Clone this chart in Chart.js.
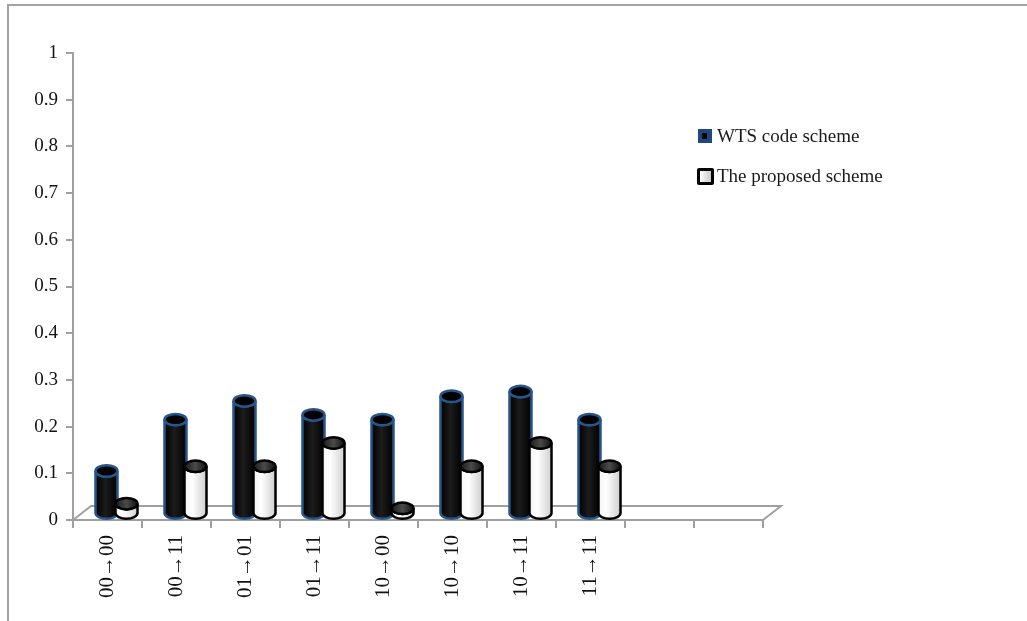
<!DOCTYPE html>
<html>
<head>
<meta charset="utf-8">
<script src="https://cdn.jsdelivr.net/npm/chart.js@4/dist/chart.umd.min.js"></script>
<style>
  body { margin: 0; background: #fff; }
  #wrap { position: relative; width: 1027px; height: 621px; overflow: hidden; }
  #frame { position: absolute; left: 7px; top: 4px; width: 1040px; height: 640px;
           border-top: 2px solid #a3a3a3; border-left: 2px solid #a3a3a3; }
  canvas { position: absolute; left: 0; top: 0; }
  .legend { position: absolute; left: 698px; font: 19px "Liberation Serif", serif; color: #1a1a1a; }
  .legend .row { position: absolute; white-space: nowrap; height: 20px; line-height: 20px; }
  .legend .sw { position: absolute; left: 0; top: 3px; width: 14px; height: 14px; box-sizing: border-box; }
  .legend .txt { position: absolute; left: 19px; top: 0; }
  .sw.wts { background: #1f497d; }
  .sw.wts::after { content: ""; position: absolute; left: 4px; top: 4px; width: 5px; height: 6px; background: #000; }
  .sw.prop { width: 17px; height: 17px; left: -1px; top: 2px; border: 3px solid #000; border-radius: 2px;
             background: linear-gradient(90deg, #fff, #c8c8c8); }
</style>
</head>
<body>
<div id="wrap">
  <div id="frame"></div>
  <canvas id="schemeChart" width="1027" height="621"></canvas>
  <div class="legend" id="legend"></div>
</div>
<script>
// transition categories (last two slots are left empty on the axis)
const categories = ["00→00", "00→11", "01→01", "01→11", "10→00", "10→10", "10→11", "11→11", "", ""];
const wtsScheme = [0.09, 0.2, 0.24, 0.21, 0.2, 0.25, 0.26, 0.2, null, null];
const proposedScheme = [0.02, 0.1, 0.1, 0.15, 0.01, 0.1, 0.15, 0.1, null, null];
const seriesNames = ["WTS code scheme", "The proposed scheme"];
const yTickValues = [0, 0.1, 0.2, 0.3, 0.4, 0.5, 0.6, 0.7, 0.8, 0.9, 1];

const AXIS_GRAY = "#a0a0a0";
const DEPTH_X = 18, DEPTH_Y = -14; // floor depth

Chart.defaults.font.family = '"Liberation Serif", "Times New Roman", serif';
Chart.defaults.font.size = 19;
Chart.defaults.color = "#111";

function drawCylinder(ctx, cx, topY, baseY, rx, kind) {
  const ry = rx * 0.52;
  const body = ctx.createLinearGradient(cx - rx, 0, cx + rx, 0);
  if (kind === "dark") {
    body.addColorStop(0, "#000");
    body.addColorStop(0.45, "#1c1c1c");
    body.addColorStop(1, "#000");
  } else {
    body.addColorStop(0, "#f4f4f4");
    body.addColorStop(0.35, "#ffffff");
    body.addColorStop(1, "#cfcfcf");
  }
  ctx.save();
  ctx.lineWidth = 2.5;
  ctx.strokeStyle = kind === "dark" ? "#27568b" : "#000";
  // side of the cylinder
  ctx.beginPath();
  ctx.moveTo(cx - rx, topY);
  ctx.lineTo(cx - rx, baseY);
  ctx.ellipse(cx, baseY, rx, ry, 0, Math.PI, 0, true);
  ctx.lineTo(cx + rx, topY);
  ctx.ellipse(cx, topY, rx, ry, 0, 0, Math.PI, false);
  ctx.closePath();
  ctx.fillStyle = body;
  ctx.fill();
  ctx.stroke();
  // top cap
  const cap = ctx.createLinearGradient(cx - rx, 0, cx + rx, 0);
  if (kind === "dark") {
    cap.addColorStop(0, "#000");
    cap.addColorStop(1, "#000");
  } else {
    cap.addColorStop(0, "#1a1a1a");
    cap.addColorStop(0.5, "#4a4a4a");
    cap.addColorStop(1, "#111");
  }
  ctx.beginPath();
  ctx.ellipse(cx, topY, rx, ry, 0, 0, Math.PI * 2);
  ctx.fillStyle = cap;
  ctx.fill();
  ctx.stroke();
  ctx.restore();
}

const cylinderPlugin = {
  id: "cylinders",
  beforeDatasetsDraw(chart) {
    // back edge of the floor plus the two side edges
    const { ctx, chartArea } = chart;
    const y0 = chart.scales.y.getPixelForValue(0);
    ctx.save();
    ctx.strokeStyle = AXIS_GRAY;
    ctx.lineWidth = 2;
    ctx.beginPath();
    ctx.moveTo(chartArea.left, y0);
    ctx.lineTo(chartArea.left + DEPTH_X, y0 + DEPTH_Y);
    ctx.lineTo(chartArea.right + DEPTH_X, y0 + DEPTH_Y);
    ctx.lineTo(chartArea.right, y0);
    ctx.stroke();
    ctx.restore();
  },
  afterDatasetsDraw(chart) {
    const ctx = chart.ctx;
    const base = chart.scales.y.getPixelForValue(0);
    const dx = DEPTH_X / 2, dy = DEPTH_Y / 2;
    const kinds = ["dark", "light"];
    for (let i = 0; i < categories.length; i++) {
      chart.data.datasets.forEach((ds, d) => {
        if (ds.data[i] == null) return;
        const el = chart.getDatasetMeta(d).data[i];
        drawCylinder(ctx, el.x + dx, el.y + dy, base + dy, el.width / 2 + 1, kinds[d]);
      });
    }
  }
};

const ctx = document.getElementById("schemeChart").getContext("2d");
const schemeChart = new Chart(ctx, {
  type: "bar",
  data: {
    labels: categories,
    datasets: [
      { label: seriesNames[0], data: wtsScheme, backgroundColor: "rgba(0,0,0,0)" },
      { label: seriesNames[1], data: proposedScheme, backgroundColor: "rgba(0,0,0,0)" },
    ],
  },
  options: {
    responsive: false,
    animation: false,
    devicePixelRatio: 1,
    layout: { padding: { left: 0, top: 53, right: 264, bottom: 0 } },
    datasets: { bar: { categoryPercentage: 0.58, barPercentage: 1 } },
    plugins: { legend: { display: false }, tooltip: { enabled: false } },
    scales: {
      x: {
        grid: { display: true, drawOnChartArea: false, drawTicks: true, tickLength: 8, color: AXIS_GRAY, lineWidth: 2, offset: true },
        border: { display: true, color: AXIS_GRAY, width: 2 },
        ticks: { autoSkip: false, maxRotation: 90, minRotation: 90, padding: 7, font: { size: 21 } },
        afterFit(scale) { scale.height = 101; },
      },
      y: {
        min: 0,
        max: 1,
        afterBuildTicks(scale) { scale.ticks = yTickValues.map(v => ({ value: v })); },
        grid: { display: true, drawOnChartArea: false, drawTicks: true, tickLength: 7, color: AXIS_GRAY, lineWidth: 2 },
        border: { display: true, color: AXIS_GRAY, width: 2 },
        ticks: { padding: 8, callback: v => String(+v.toFixed(1)) },
        afterFit(scale) { scale.width = 73; },
      },
    },
  },
  plugins: [cylinderPlugin],
});

// legend built from the dataset labels
const legend = document.getElementById("legend");
const swatches = ["wts", "prop"];
const rowTops = [126, 166];
schemeChart.data.datasets.forEach((ds, i) => {
  const row = document.createElement("div");
  row.className = "row";
  row.style.top = rowTops[i] + "px";
  row.innerHTML = '<span class="sw ' + swatches[i] + '"></span><span class="txt">' + ds.label + "</span>";
  legend.appendChild(row);
});
</script>
</body>
</html>
